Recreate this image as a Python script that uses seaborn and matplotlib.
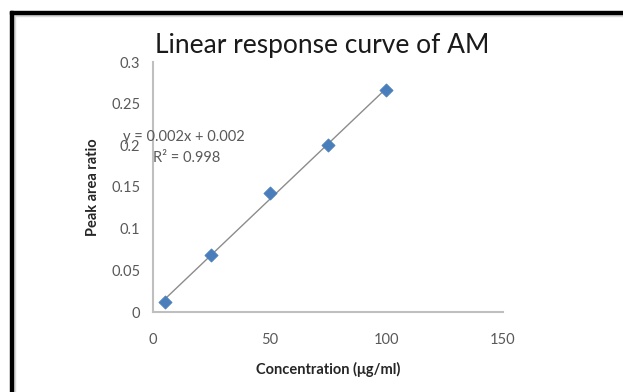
import numpy as np
import pandas as pd
import matplotlib
matplotlib.use('Agg')
import matplotlib.pyplot as plt
import seaborn as sns
from matplotlib.patches import Rectangle
from matplotlib.ticker import FuncFormatter

# 数据
concentration = [5, 25, 50, 75, 100]
peak_area_ratio = [0.012, 0.068, 0.143, 0.200, 0.266]
equation_label = 'y = 0.002x + 0.002'
r2_label = 'R² = 0.998'
x_ticks = [0, 50, 100, 150]
y_ticks = [0, 0.05, 0.1, 0.15, 0.2, 0.25, 0.3]

df = pd.DataFrame({'conc': concentration, 'ratio': peak_area_ratio})

sns.set_style('white')
plt.rcParams['font.family'] = ['Lato', 'DejaVu Sans']

fig = plt.figure(figsize=(6.23, 3.92), dpi=100)
ax = fig.add_axes([153/623, 1-312/392, 350/623, 250/392])

# 趋势线
sns.regplot(data=df, x='conc', y='ratio', ci=None, ax=ax, scatter=False,
            line_kws={'color': '#8c8c8c', 'lw': 1.0})
sns.scatterplot(data=df, x='conc', y='ratio', ax=ax, marker='D', s=45,
                color='#4a7ebb', edgecolor='#4a7ebb', zorder=3)

ax.set_xlim(0, 150)
ax.set_ylim(0, 0.3)
ax.set_xticks(x_ticks)
ax.set_yticks(y_ticks)
ax.yaxis.set_major_formatter(FuncFormatter(lambda v, p: f'{v:g}'))
ax.tick_params(axis='both', colors='#bfbfbf', labelcolor='#595959', labelsize=10.5,
               length=4, width=1.2, direction='out')
ax.tick_params(axis='x', pad=11)
ax.tick_params(axis='y', pad=5)
for s in ['top', 'right']:
    ax.spines[s].set_visible(False)
for s in ['left', 'bottom']:
    ax.spines[s].set_color('#bfbfbf')
    ax.spines[s].set_linewidth(1.5)

ax.set_xlabel('Concentration (μg/ml)', fontsize=10.5, fontweight='bold', color='#262626', labelpad=11)
ax.set_ylabel('Peak area ratio', fontsize=10.5, fontweight='bold', color='#262626', labelpad=8)
fig.text(322/623, 1-45/392, 'Linear response curve of AM', fontsize=19, color='#1a1a1a',
         ha='center', va='center')

fig.text(123/623, 1-137/392, equation_label, fontsize=10.5, color='#595959', va='center')
fig.text(153/623, 1-158/392, r2_label, fontsize=10.5, color='#595959', va='center')

# 边框
fig.patches.append(Rectangle((10/623, 0), 3/623, 1-11/392, transform=fig.transFigure,
                             color='black', zorder=10))
fig.patches.append(Rectangle((10/623, 1-14/392), 1-10/623, 3/392, transform=fig.transFigure,
                             color='black', zorder=10))
fig.patches.append(Rectangle((13/623, 0), 2/623, 1-14/392, transform=fig.transFigure,
                             color='#d9d9d9', zorder=9))
fig.patches.append(Rectangle((13/623, 1-16/392), 1-13/623, 2/392, transform=fig.transFigure,
                             color='#d9d9d9', zorder=9))

fig.savefig('out.png', dpi=100)
